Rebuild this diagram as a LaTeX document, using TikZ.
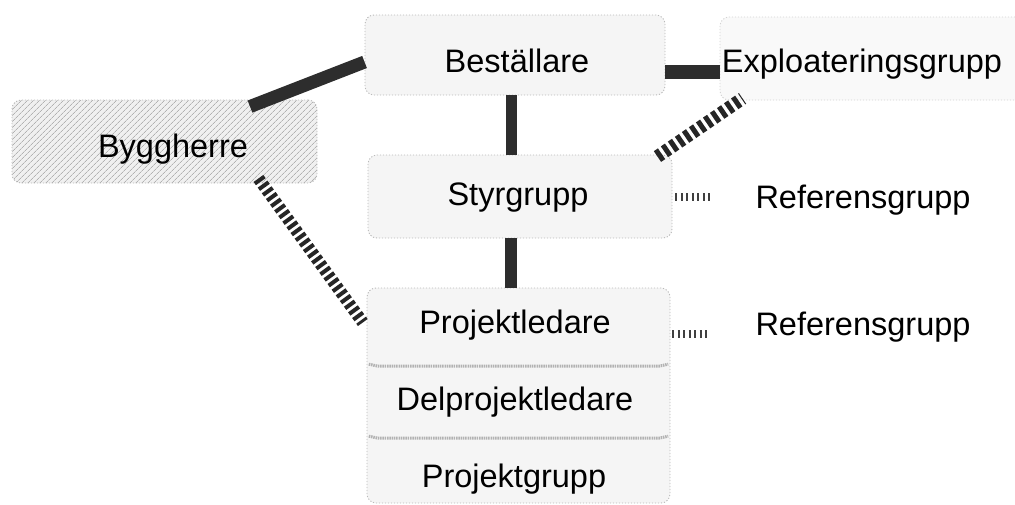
\documentclass[tikz,border=0pt]{standalone}
\usepackage{fontspec}
\setmainfont{Liberation Sans}
\usetikzlibrary{calc,patterns.meta}
\begin{document}
\begin{tikzpicture}[x=1pt,y=-1pt,
  box/.style={draw=gray!55, line width=0.9pt, dash pattern=on 1.2pt off 1.8pt, fill=gray!8, rounded corners=9pt, inner sep=0pt},
  part/.style={inner sep=0pt, minimum width=303pt},
  lbl/.style={font=\fontsize{32.5}{37}\selectfont, inner sep=0pt, text=black, anchor=base},
  solidbar/.style={line width=12pt, draw=gray!35!black},
  stripebar/.style={line width=13pt, draw=black!85, dash pattern=on 5pt off 3.5pt},
  hatchbar/.style={line width=8pt, draw=gray!50!black, dash pattern=on 2pt off 3.5pt},
  sep/.style={line width=3pt, draw=gray!60, dash pattern=on 1.5pt off 0.8pt},
]
\useasboundingbox (0,0) rectangle (1015,504);

% boxes
\node[box, minimum width=300pt, minimum height=80pt] (bes) at (515,55) {};
\node[box, minimum width=310pt, minimum height=83pt, draw=gray!35, fill=gray!5] (exp) at (875,58.5) {};
\node[box, minimum width=305pt, minimum height=83pt, fill=gray!12,
      postaction={pattern={Lines[angle=45,distance=4pt,line width=0.8pt]}, pattern color=gray!60}] (byg) at (164.5,141.5) {};
\node[box, minimum width=304pt, minimum height=83pt] (sty) at (520,196.5) {};
\node[box, minimum width=303pt, minimum height=215pt] (stack) at (518.5,395.5) {};
\node[part, minimum height=77pt] (pl) at (518.5,326.5) {};
\node[part, minimum height=72pt] (dpl) at (518.5,401) {};
\node[part, minimum height=66pt] (pg) at (518.5,470) {};
\draw[sep] ($(pl.south west)+(2,-1)$) to[out=-10,in=180] ($(pl.south west)+(14,1)$) -- ($(pl.south east)+(-14,1)$) to[out=0,in=190] ($(pl.south east)+(-2,-1)$);
\draw[sep] ($(dpl.south west)+(2,-1)$) to[out=-10,in=180] ($(dpl.south west)+(14,1)$) -- ($(dpl.south east)+(-14,1)$) to[out=0,in=190] ($(dpl.south east)+(-2,-1)$);

% texts
\node[lbl] (tbes) at (517,72) {Beställare};
\node[lbl] (texp) at (862,72) {Exploateringsgrupp};
\node[lbl] (tbyg) at (173,157) {Byggherre};
\node[lbl] (tsty) at (518,205) {Styrgrupp};
\node[lbl] (ref1) at (863,208) {Referensgrupp};
\node[lbl] (tpl) at (515,333) {Projektledare};
\node[lbl] (ref2) at (863,335) {Referensgrupp};
\node[lbl] (tdpl) at (515,410) {Delprojektledare};
\node[lbl] (tpg) at (514,487) {Projektgrupp};

% connectors
\draw[solidbar, line width=13pt] ($(bes.west)+(0,7)$) -- ($(byg.north)+(85.5,7)$);
\draw[solidbar, line width=14pt] ($(bes.east)+(0,17)$) -- ($(exp.west)+(0,13.5)$);
\draw[solidbar, line width=11pt] ($(bes.south)+(-4,0)$) -- ($(sty.north)+(-9,0)$);
\draw[solidbar] ($(sty.south)+(-9,0)$) -- ($(pl.north)+(-7.5,0)$);
\draw[stripebar] ($(sty.north east)+(-15,2)$) -- ($(exp.south west)+(23,-2)$);
\draw[stripebar, dash pattern=on 4pt off 3pt, line width=12pt] ($(byg.south east)+(-59,-5)$) -- ($(pl.west)+(-4,-4)$);
\draw[hatchbar, shorten <=3pt, shorten >=42pt] (sty.east) -- (sty.east -| ref1.west);
\draw[hatchbar, shorten <=2pt, shorten >=45pt] ($(pl.east)+(0,7.5)$) -- ({$(pl.east)+(0,7.5)$} -| ref2.west);
\end{tikzpicture}
\end{document}
